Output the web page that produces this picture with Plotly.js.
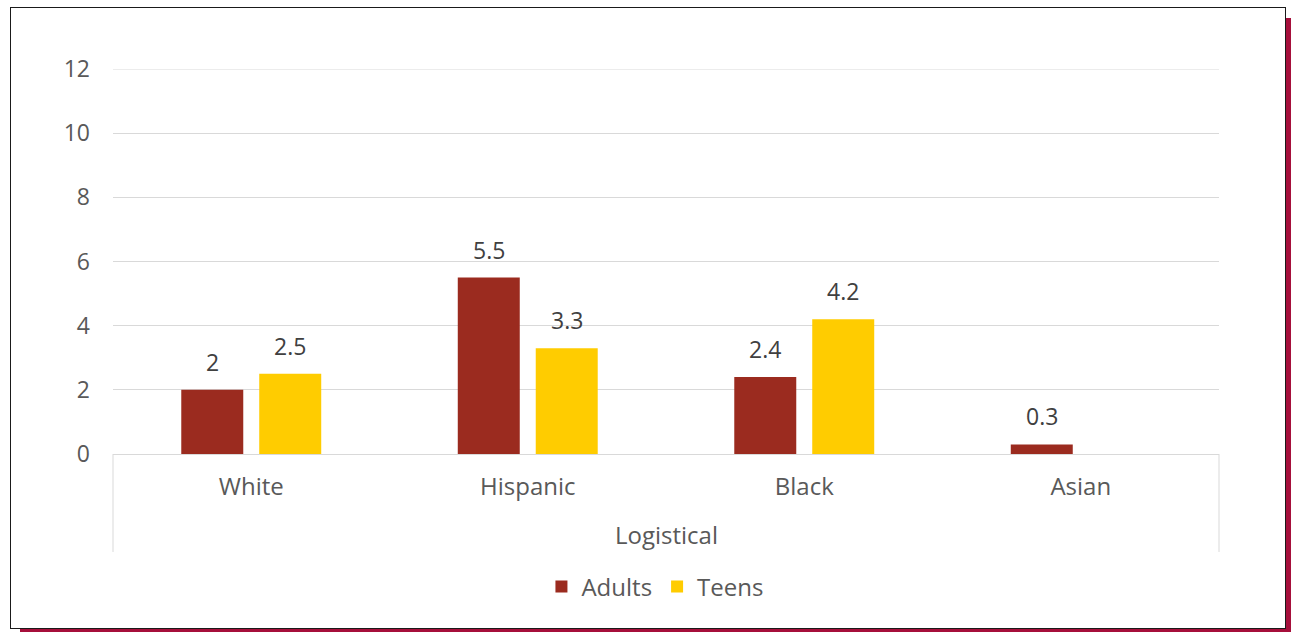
<!DOCTYPE html>
<html>
<head>
<meta charset="utf-8">
<script src="https://cdn.plot.ly/plotly-3.0.1.min.js"></script>
<style>
  html, body { margin: 0; padding: 0; width: 1291px; height: 632px; overflow: hidden; background: #ffffff; }
  #shadow { position: absolute; left: 20px; top: 18px; width: 1271px; height: 614px; background: #A60F3B; }
  #box { position: absolute; left: 10px; top: 7px; width: 1274px; height: 620px; background: #ffffff; border: 1px solid #1a1a1a; }
  #chart { position: absolute; left: 0; top: 0; width: 1291px; height: 632px; }
</style>
</head>
<body>
<div id="shadow"></div>
<div id="box"></div>
<div id="chart"></div>
<script>
const groupLabel = "Logistical";
const categories = ["White", "Hispanic", "Black", "Asian"];
const adults = [2, 5.5, 2.4, 0.3];
const teens = [2.5, 3.3, 4.2, null];
const seriesNames = ["Adults", "Teens"];
const colors = ["#9B2B1F", "#FFCC00"];
const yMax = 12;

const fontFam = "'Open Sans', 'Liberation Sans', Arial, sans-serif";
const tickColor = "#595959";
const labelColor = "#404040";
const gridColor = "#D9D9D9";

const traces = [
  { type: "bar", name: seriesNames[0], x: categories, y: adults, marker: { color: colors[0] }, hoverinfo: "x+y+name" },
  { type: "bar", name: seriesNames[1], x: categories, y: teens, marker: { color: colors[1] }, hoverinfo: "x+y+name" }
];

// data labels above bars
const annotations = [];
const offsets = [-39, 39];
[adults, teens].forEach((vals, s) => {
  vals.forEach((v, i) => {
    if (v === null || v === undefined) return;
    annotations.push({
      x: categories[i], y: v, xref: "x", yref: "y",
      text: String(v), showarrow: false,
      xshift: offsets[s], yshift: 28, yanchor: "middle", xanchor: "center",
      font: { family: fontFam, size: 23, color: labelColor }
    });
  });
});
annotations.push({
  x: 0.5, y: -0.21, xref: "paper", yref: "paper",
  text: groupLabel, showarrow: false, xanchor: "center", yanchor: "middle",
  font: { family: fontFam, size: 24, color: tickColor }
});

const layout = {
  width: 1291, height: 632,
  margin: { l: 113, r: 72, t: 69, b: 178, pad: 0 },
  paper_bgcolor: "rgba(0,0,0,0)",
  plot_bgcolor: "rgba(0,0,0,0)",
  barmode: "group",
  bargap: 0.436,
  bargroupgap: 0.205,
  showlegend: true,
  legend: {
    orientation: "h", x: 0.49, xanchor: "center", y: -0.345, yanchor: "middle",
    font: { family: fontFam, size: 24, color: tickColor },
    bgcolor: "rgba(0,0,0,0)"
  },
  xaxis: {
    type: "category",
    showline: true, linecolor: gridColor, linewidth: 1,
    showgrid: false, zeroline: false, ticks: "",
    tickfont: { family: fontFam, size: 24, color: tickColor },
    ticklabelstandoff: 11,
    fixedrange: true
  },
  yaxis: {
    range: [0, yMax], dtick: 2, tick0: 0,
    showgrid: true, gridcolor: gridColor, gridwidth: 1,
    zeroline: false, showline: false, ticks: "",
    tickfont: { family: fontFam, size: 23, color: tickColor },
    ticklabelstandoff: 22,
    fixedrange: true
  },
  shapes: [
    { type: "line", xref: "paper", yref: "y", x0: 0, x1: 1, y0: yMax, y1: yMax, line: { color: gridColor, width: 1 } },
    { type: "line", xref: "paper", yref: "paper", x0: 0, x1: 0, y0: 0, y1: -0.2545, line: { color: gridColor, width: 1 } },
    { type: "line", xref: "paper", yref: "paper", x0: 1, x1: 1, y0: 0, y1: -0.2545, line: { color: gridColor, width: 1 } }
  ],
  annotations: annotations
};

Plotly.newPlot("chart", traces, layout, { displayModeBar: false, staticPlot: true });
</script>
</body>
</html>
